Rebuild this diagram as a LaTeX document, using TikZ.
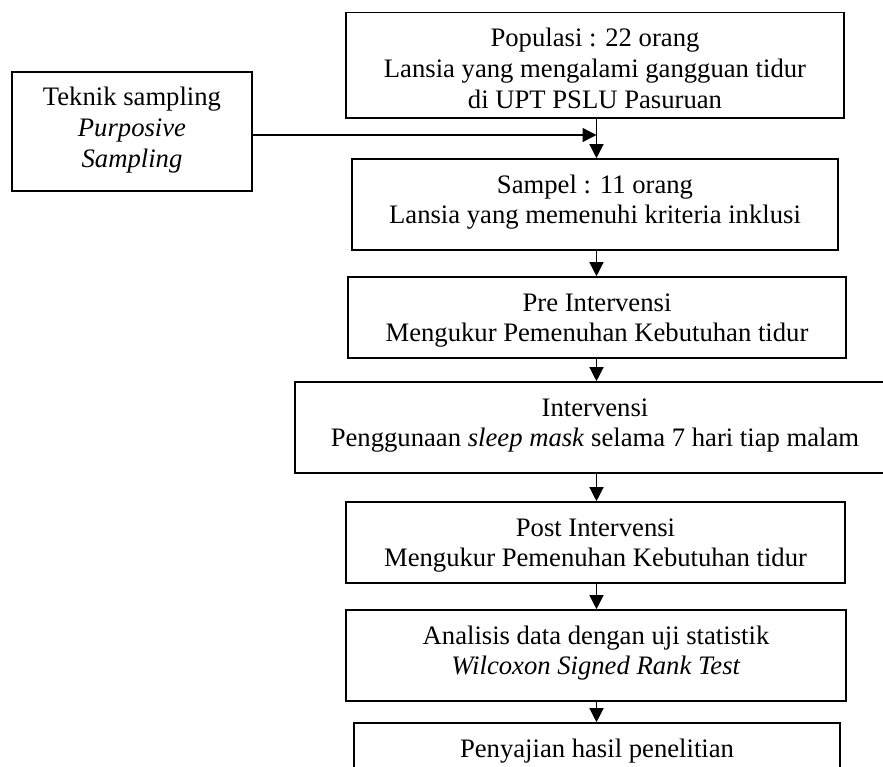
\documentclass[tikz,border=0pt]{standalone}
\usepackage{fontspec}
\setmainfont{Liberation Serif}
\usetikzlibrary{arrows.meta}
\newcommand{\boxtxt}[3]{\begin{minipage}[c][#1][t]{#2}\centering\fontsize{20pt}{23pt}\selectfont\rule{0pt}{25.5pt}#3\par\end{minipage}}
\begin{document}
\begin{tikzpicture}[x=0.75pt,y=-0.75pt,
  box/.style={draw, rectangle, line width=1.2pt, inner sep=0pt},
  arr/.style={line width=1pt, -{Triangle[length=10.5pt,width=10.5pt]}}]
\path[use as bounding box] (0,0) rectangle (883,767);
\clip (0,0) rectangle (883,767);
\node[box] (pop) at (595,65.35) {\boxtxt{79pt}{373.5pt}{Populasi : 22 orang\\Lansia yang mengalami gangguan tidur\\di UPT PSLU Pasuruan}};
\node[box] (tek) at (132,131.5) {\boxtxt{89.25pt}{180pt}{Teknik sampling\\\textit{Purposive}\\\textit{Sampling}}};
\node[box] (sam) at (595,204.5) {\boxtxt{68.25pt}{364.5pt}{Sampel : 11 orang\\Lansia yang memenuhi kriteria inklusi}};
\node[box] (pre) at (597,317.5) {\boxtxt{60.75pt}{373.5pt}{Pre Intervensi\\Mengukur Pemenuhan Kebutuhan tidur}};
\node[box] (int) at (595,427.5) {\boxtxt{68.25pt}{450pt}{Intervensi\\Penggunaan \textit{sleep mask} selama 7 hari tiap malam}};
\node[box] (post) at (595.5,542.5) {\boxtxt{60.75pt}{374.25pt}{Post Intervensi\\Mengukur Pemenuhan Kebutuhan tidur}};
\node[box] (ana) at (596,655.5) {\boxtxt{68.25pt}{375pt}{Analisis data dengan uji statistik\\\textit{Wilcoxon Signed Rank Test}}};
\node[box] (pen) at (597,763.5) {\boxtxt{60.75pt}{364.5pt}{Penyajian hasil penelitian}};
\coordinate (ax) at (596.5,0);
\coordinate (j) at (596.5,135);
\draw[arr] (tek.east |- j) -- (j);
\draw[arr] (pop.south -| ax) -- (sam.north -| ax);
\draw[arr] (sam.south -| ax) -- (pre.north -| ax);
\draw[arr] (pre.south -| ax) -- (int.north -| ax);
\draw[arr] (int.south -| ax) -- (post.north -| ax);
\draw[arr] (post.south -| ax) -- (ana.north -| ax);
\draw[arr] (ana.south -| ax) -- (pen.north -| ax);
\end{tikzpicture}
\end{document}
